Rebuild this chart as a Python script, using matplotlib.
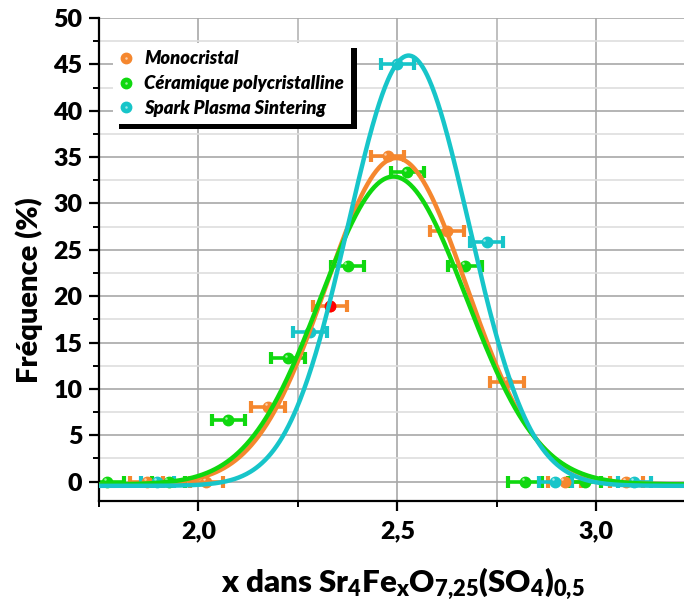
import numpy as np
import matplotlib.pyplot as plt
from matplotlib.ticker import FixedLocator, FixedFormatter, MultipleLocator
from matplotlib.transforms import ScaledTranslation, IdentityTransform
from matplotlib.lines import Line2D
from matplotlib.patches import Rectangle

plt.rcParams['font.family'] = ['Lato', 'DejaVu Sans']
plt.rcParams['font.weight'] = 'heavy'
plt.rcParams['mathtext.fontset'] = 'custom'
plt.rcParams['mathtext.rm'] = 'Lato:heavy'
plt.rcParams['mathtext.it'] = 'Lato:heavy:italic'
plt.rcParams['mathtext.bf'] = 'Lato:heavy'

labels = ['Monocristal', 'Céramique polycristalline', 'Spark Plasma Sintering']
colors = ['#f5872e', '#0fd80f', '#17c5c9']

# histogram points (x, frequency %)
mono_x = [1.87, 2.02, 2.175, 2.33, 2.475, 2.625, 2.775, 2.92, 3.075]
mono_y = [0, 0, 8.1, 18.9, 35.1, 27.0, 10.8, 0, 0]
cera_x = [1.77, 1.925, 2.075, 2.225, 2.375, 2.525, 2.67, 2.82, 2.97]
cera_y = [0, 0, 6.6, 13.3, 23.3, 33.4, 23.3, 0, 0]
sps_x = [1.897, 2.28, 2.50, 2.724, 2.897, 3.095]
sps_y = [0, 16.1, 45.0, 25.8, 0, 0]
x_err = 0.042
red_point = 3  # highlighted monocristal point

# gaussian fits: centre, sigma, amplitude, baseline
fit_mono = (2.497, 0.177, 35.2, -0.3)
fit_cera = (2.490, 0.183, 33.2, -0.3)
fit_sps = (2.528, 0.152, 46.4, -0.45)

xtick_vals = [2.0, 2.5, 3.0]
xtick_labels = ['2,0', '2,5', '3,0']
ytick_vals = [0, 5, 10, 15, 20, 25, 30, 35, 40, 45, 50]


def gauss(x, p):
    xc, w, a, y0 = p
    return y0 + a * np.exp(-(x - xc) ** 2 / (2 * w ** 2))


fig = plt.figure(figsize=(6.84, 6.12), dpi=100)
ax = fig.add_axes([0.1447, 0.1819, 0.8553, 0.7887])
ax.set_xlim(1.75, 3.22)
ax.set_ylim(-2.05, 50)

hl = ax.transData + ScaledTranslation(-1.6 / 72, 1.6 / 72, fig.dpi_scale_trans)

sets = [(mono_x, mono_y), (cera_x, cera_y), (sps_x, sps_y)]
for (xs, ys), c in zip(sets, colors):
    ax.errorbar(xs, ys, xerr=x_err, fmt='none', ecolor=c, elinewidth=2.6,
                capsize=4, capthick=3, zorder=2)
    ax.plot(xs, ys, 'o', color=c, ms=7.5, zorder=3)
    ax.plot(xs, ys, 'o', color='white', ms=1.8, alpha=0.6, mec='none',
            transform=hl, zorder=3.1)

# red highlighted point
ax.plot(mono_x[red_point], mono_y[red_point], 'o', color='red', ms=7.5, zorder=3.2)

xx = np.linspace(1.75, 3.22, 600)
for p, c in zip([fit_mono, fit_cera, fit_sps], colors):
    ax.plot(xx, gauss(xx, p), color=c, lw=3.2, zorder=4, solid_capstyle='butt')

# axes styling
ax.spines['top'].set_visible(False)
ax.spines['right'].set_visible(False)
ax.spines['left'].set_linewidth(1.6)
ax.spines['bottom'].set_linewidth(1.6)

ax.xaxis.set_major_locator(FixedLocator(xtick_vals))
ax.xaxis.set_major_formatter(FixedFormatter(xtick_labels))
ax.xaxis.set_minor_locator(MultipleLocator(0.25))
ax.yaxis.set_major_locator(FixedLocator(ytick_vals))
ax.yaxis.set_minor_locator(MultipleLocator(2.5))
ax.tick_params(which='major', direction='out', length=7, width=1.6,
               labelsize=18, pad=5)
ax.tick_params(which='minor', direction='out', length=4, width=1.4)
ax.tick_params(axis='x', which='major', pad=7)

ax.grid(True, which='major', color='#a8a8a8', lw=1.2, zorder=0)
ax.grid(True, which='minor', axis='x', color='#b4b4b4', lw=1.2, zorder=0)
ax.grid(True, which='minor', axis='y', color='#dedede', lw=1.2, zorder=0)
ax.set_axisbelow(True)

ax.set_ylabel('Fréquence (%)', fontsize=21, fontweight='heavy')
ax.yaxis.set_label_coords(-0.096, 0.436)
ax.set_xlabel(r'x dans Sr$_4$Fe$_\mathrm{x}$O$_{7{,}25}$(SO$_4$)$_{0{,}5}$',
              fontsize=22.5, fontweight='heavy')
ax.xaxis.set_label_coords(0.52, -0.134)

handles = []
for c in colors:
    h1 = Line2D([], [], ls='none', marker='o', color=c, ms=7.5)
    h2 = Line2D([], [], ls='none', marker='o', color='white', ms=1.8, alpha=0.6, mec='none')
    handles.append((h1, h2))
leg = ax.legend(handles, labels, loc='upper left', bbox_to_anchor=(0.024, 0.948),
                borderaxespad=0, frameon=True, fancybox=False, framealpha=1,
                edgecolor='none', facecolor='white', handlelength=0.6,
                handletextpad=0.7, labelspacing=0.42, borderpad=0.4,
                prop={'size': 13.2, 'weight': 'heavy', 'style': 'italic'})
leg.set_zorder(6)

fig.canvas.draw()
bb = leg.get_window_extent()
shadow = Rectangle((bb.x0 + 6, bb.y0 - 5), bb.width, bb.height, transform=IdentityTransform(),
                   facecolor='black', edgecolor='none', zorder=5.9, clip_on=False)
ax.add_artist(shadow)

fig.savefig('out.png', dpi=100)
